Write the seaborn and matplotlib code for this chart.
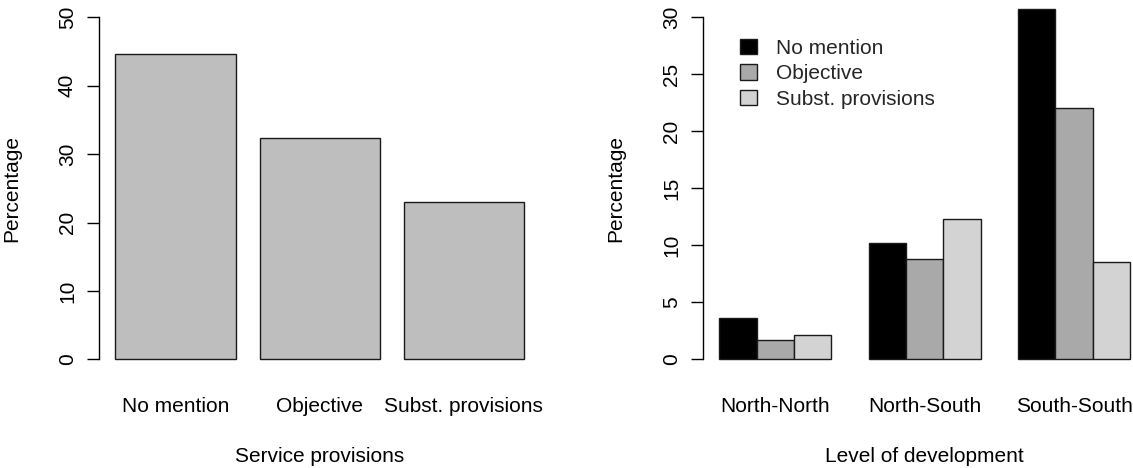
import seaborn as sns
import matplotlib.pyplot as plt
import pandas as pd

# left panel: share of agreements by service provisions
provisions = ['No mention', 'Objective', 'Subst. provisions']
provision_pct = [44.6, 32.4, 23.0]

# right panel: same split by level of development
levels = ['North-North', 'North-South', 'South-South']
no_mention = [3.63, 10.2, 30.7]
objective = [1.67, 8.77, 22.06]
subst_prov = [2.16, 12.33, 8.5]

df_left = pd.DataFrame({'provision': provisions, 'pct': provision_pct})
df_right = pd.DataFrame({
    'level': levels * 3,
    'pct': no_mention + objective + subst_prov,
    'provision': [p for p in provisions for _ in levels],
})

sns.set_theme(style="white")
plt.rcParams['font.family'] = ['Liberation Sans', 'DejaVu Sans']

FS = 15
fig = plt.figure(figsize=(11.33, 4.68), dpi=100)
ax1 = fig.add_axes([0.0870, 0.2030, 0.3903, 0.7893])
ax2 = fig.add_axes([0.6204, 0.2030, 0.3915, 0.7893])

sns.barplot(data=df_left, x='provision', y='pct', order=provisions,
            color='#BEBEBE', saturation=1, width=1 / 1.2,
            edgecolor='#1a1a1a', linewidth=1, ax=ax1)

palette = {'No mention': '#000000', 'Objective': '#A9A9A9',
           'Subst. provisions': '#D3D3D3'}
sns.barplot(data=df_right, x='level', y='pct', hue='provision',
            order=levels, hue_order=provisions, palette=palette,
            saturation=1, width=0.75, edgecolor='#1a1a1a', linewidth=1,
            ax=ax2)

ax1.set_xlim(-0.5333, 2.5333)
ax1.set_ylim(-2, 52)
ax1.set_yticks(range(0, 51, 10))
ax1.spines['left'].set_bounds(0, 50)

ax2.set_xlim(-0.485, 2.485)
ax2.set_ylim(-1.2, 31.2)
ax2.set_yticks(range(0, 31, 5))
ax2.spines['left'].set_bounds(0, 30)

for ax, xlab in [(ax1, 'Service provisions'), (ax2, 'Level of development')]:
    for s in ['top', 'right', 'bottom']:
        ax.spines[s].set_visible(False)
    ax.spines['left'].set_color('black')
    ax.spines['left'].set_linewidth(1)
    ax.tick_params(axis='x', length=0, pad=17, labelsize=FS, colors='black')
    ax.tick_params(axis='y', left=True, length=8.6, width=1, pad=7,
                   labelsize=FS, labelrotation=90, colors='black')
    for lab in ax.get_yticklabels():
        lab.set_va('center')
    ax.set_xlabel(xlab, fontsize=FS, color='black')
    ax.set_ylabel('Percentage', fontsize=FS, color='black')
    ax.xaxis.label.set_va('center')
    ax.yaxis.label.set_va('center')
    ax.xaxis.set_label_coords(0.5, -0.227)

ax1.yaxis.set_label_coords(-0.1965, 0.5)
ax2.yaxis.set_label_coords(-0.1955, 0.5)

handles, labels = ax2.get_legend_handles_labels()
ax2.legend(handles, labels, loc='upper left', bbox_to_anchor=(0.0836, 0.905),
           frameon=False, fontsize=FS, borderpad=0, borderaxespad=0,
           handlelength=0.8, handleheight=0.75, handletextpad=0.95,
           labelspacing=0.32)

plt.savefig('out.png', dpi=100)
